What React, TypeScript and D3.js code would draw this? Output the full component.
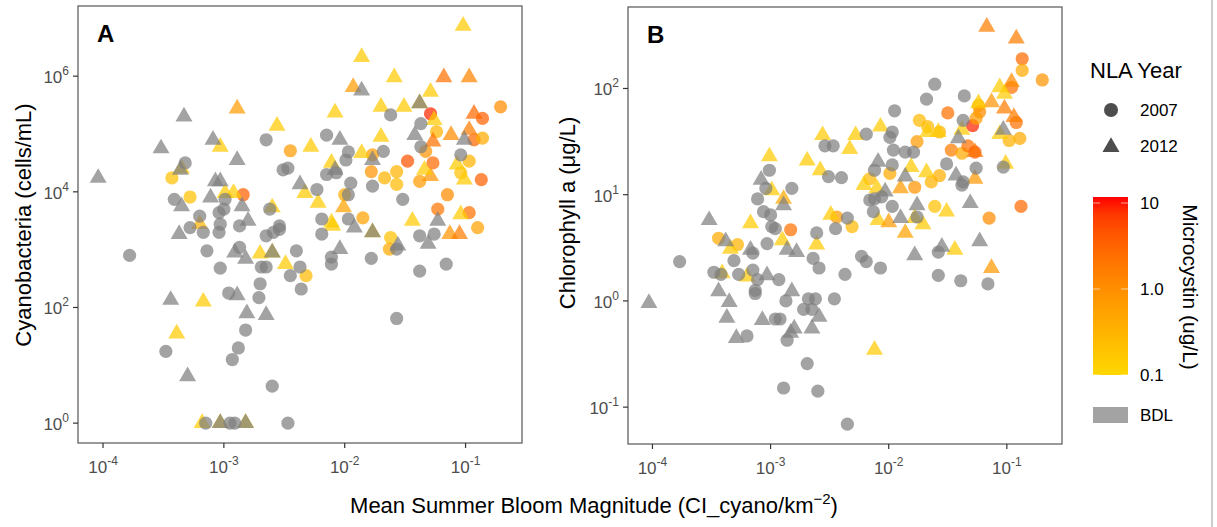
import React from 'react'
import * as d3 from 'd3'

type Pt = [number, number, number | null]

// [log10 bloom magnitude, log10 cyanobacteria cells/mL, microcystin ug/L (null = BDL)]
const cyano2007: Pt[] = [
  [-3.43, 4.24, 0.2], [-3.32, 4.5, null], [-3.41, 3.87, null], [-3.28, 3.91, 0.2], [-3.2, 3.58, null],
  [-3.04, 3.64, null], [-2.99, 3.87, null], [-3.0, 3.7, null], [-2.84, 3.95, 3], [-2.65, 4.9, null],
  [-2.62, 3.7, null], [-2.54, 3.41, null], [-2.51, 4.38, null], [-2.47, 4.41, null], [-2.45, 4.71, 0.6],
  [-2.23, 4.04, null], [-2.19, 3.53, null], [-2.15, 4.98, null], [-2.15, 4.3, null], [-2.07, 4.33, null],
  [-2.0, 3.95, 0.35], [-1.97, 3.95, null], [-1.99, 4.55, null], [-1.97, 4.69, null], [-1.95, 4.15, null],
  [-1.97, 3.53, null], [-1.85, 3.55, 0.5], [-1.78, 4.35, 0.8], [-1.77, 4.1, null], [-1.77, 4.64, 0.6],
  [-1.68, 4.7, null], [-1.67, 4.24, 0.3], [-1.62, 5.33, null], [-1.57, 4.35, 0.3], [-1.57, 4.13, 0.25],
  [-1.52, 3.87, null], [-1.48, 4.53, 4], [-1.38, 4.18, 0.6], [-1.37, 5.18, null], [-1.37, 4.78, null],
  [-1.33, 4.7, 0.8], [-1.29, 5.35, 8], [-1.27, 4.5, 2.5], [-1.24, 5.04, 0.3], [-1.23, 3.7, 1.8],
  [-1.15, 3.95, 1], [-1.04, 4.64, null], [-1.04, 4.33, 0.2], [-0.97, 4.53, 0.3], [-0.97, 3.64, 2],
  [-0.93, 4.9, 2.5], [-0.86, 5.27, 3], [-0.86, 4.93, 0.4], [-0.87, 4.21, 3], [-0.71, 5.47, 1],
  [-0.9, 3.38, 0.5],
  [-3.78, 2.9, null], [-3.28, 3.38, null], [-3.17, 3.3, null], [-3.04, 3.3, null], [-3.03, 3.44, null],
  [-3.14, 2.98, null], [-3.03, 2.68, null], [-2.87, 3.41, null], [-2.87, 3.04, null], [-2.65, 3.24, null],
  [-2.59, 3.3, null], [-2.54, 3.35, null], [-2.4, 2.98, null], [-2.69, 2.7, null], [-2.65, 2.7, null],
  [-2.45, 2.55, null], [-2.37, 2.7, null], [-2.32, 2.55, 0.25], [-2.7, 2.41, null], [-2.36, 2.32, null],
  [-2.96, 2.25, null], [-2.71, 2.17, null], [-2.82, 1.61, null], [-2.88, 1.3, null], [-2.93, 1.1, null],
  [-3.48, 1.24, null], [-2.6, 0.64, null], [-3.15, 0, null], [-2.95, 0, null], [-2.91, 0, null],
  [-2.47, 0, null], [-2.19, 3.27, null], [-2.11, 2.87, null], [-2.11, 2.75, null], [-1.78, 2.85, null],
  [-1.62, 3.21, 0.2], [-1.63, 3.01, 0.4], [-1.57, 3.01, null], [-1.57, 1.81, null], [-1.38, 3.24, null],
  [-1.26, 3.27, null], [-1.38, 2.63, null], [-1.16, 2.75, null],
]

const cyano2012: Pt[] = [
  [-4.04, 4.24, null], [-3.52, 4.75, null], [-3.33, 5.3, null], [-3.09, 4.9, null], [-3.03, 4.78, 0.15],
  [-2.89, 5.44, 0.6], [-2.89, 4.55, null], [-3.36, 4.38, null], [-3.35, 4.4, 0.15], [-3.07, 4.18, null],
  [-3.03, 4.18, null], [-2.99, 3.98, 0.15], [-2.92, 3.98, 0.15], [-3.11, 3.9, null], [-3.35, 3.75, null],
  [-2.85, 3.75, null], [-2.8, 3.5, null], [-2.6, 3.73, 0.15], [-2.56, 5.14, 0.15], [-2.37, 4.13, null],
  [-2.33, 3.98, 0.15], [-2.28, 4.78, 0.15], [-2.22, 3.81, 0.15], [-2.08, 5.37, 0.15], [-2.04, 4.9, null],
  [-2.11, 4.5, 0.15], [-2.08, 4.38, null], [-2.01, 3.73, 0.5], [-1.93, 5.81, 0.6], [-1.86, 5.75, null],
  [-1.86, 6.33, 0.15], [-1.86, 4.67, 0.15], [-1.77, 4.55, null], [-1.7, 5.47, 0.15], [-1.7, 4.95, 0.15],
  [-1.59, 5.98, 0.15], [-1.51, 5.47, 0.15], [-1.42, 4.98, null], [-1.38, 5.53, 0.2], [-1.38, 5.53, null],
  [-1.29, 5.73, 0.15], [-1.26, 5.24, 0.15], [-1.27, 4.87, 2], [-1.29, 4.27, 0.8], [-1.34, 4.38, 0.15],
  [-1.18, 5.98, 2], [-1.12, 4.98, 1], [-1.02, 6.87, 0.15], [-0.97, 5.98, 1.2], [-1.01, 4.9, null],
  [-0.97, 5.07, 1.5], [-0.93, 5.35, 2.5], [-1.07, 4.47, 0.15], [-1.01, 4.21, 0.15], [-1.04, 3.61, 0.15],
  [-1.44, 3.5, 0.15], [-1.23, 3.5, null], [-2.11, 3.47, 0.15],
  [-3.37, 3.27, null], [-3.2, 3.44, 0.3], [-2.91, 2.95, null], [-2.82, 2.84, null], [-2.7, 2.93, 0.15],
  [-2.6, 2.95, 0.15], [-2.6, 2.95, null], [-2.49, 2.75, 0.15], [-2.89, 2.21, null], [-3.44, 2.13, null],
  [-3.17, 2.1, 0.15], [-2.81, 1.9, null], [-2.65, 1.87, null], [-3.39, 1.55, 0.15], [-3.3, 0.81, null],
  [-3.18, 0, 0.15], [-3.03, 0, 0.15], [-3.03, 0, null], [-2.82, 0, 0.15], [-2.82, 0, null],
  [-2.1, 3.41, 0.15], [-2.04, 3.01, null], [-1.92, 3.38, null], [-1.77, 3.3, 0.15], [-1.77, 3.3, null],
  [-1.56, 3.07, null], [-1.31, 3.1, null], [-1.13, 3.27, 0.8], [-1.05, 3.27, 1.5],
]

// [log10 bloom magnitude, log10 chlorophyll a ug/L, microcystin ug/L (null = BDL)]
const chl2007: Pt[] = [
  [-1.61, 2.04, null], [-1.68, 1.9, null], [-1.95, 1.79, null], [-1.36, 1.93, null], [-1.5, 1.77, 2],
  [-1.37, 1.7, null], [-1.29, 1.65, 8], [-1.24, 1.84, 0.3], [-1.23, 1.78, 1], [-1.26, 1.72, 0.6],
  [-0.87, 2.28, 2.5], [-0.87, 2.17, 0.4], [-0.7, 2.08, 0.8], [-0.96, 2.01, 2], [-0.92, 1.68, 2],
  [-0.89, 1.53, 0.4], [-0.98, 1.51, 0.3], [-1.03, 1.26, null], [-1.74, 1.7, 0.25], [-1.67, 1.64, 0.25],
  [-1.57, 1.59, 0.3], [-1.76, 1.5, 0.6], [-2.19, 1.57, null], [-1.97, 1.59, null], [-1.99, 1.54, null],
  [-1.96, 1.42, null], [-1.86, 1.4, null], [-1.79, 1.4, null], [-2.54, 1.46, null], [-2.47, 1.46, null],
  [-1.97, 1.28, null], [-2.12, 1.23, null], [-1.99, 1.2, 0.4], [-2.16, 1.15, 0.25], [-2.51, 1.17, null],
  [-2.4, 1.16, null], [-1.78, 1.07, 0.8], [-1.64, 1.12, 0.3], [-1.57, 1.18, 0.35], [-1.51, 1.29, null],
  [-1.47, 1.42, 1.5], [-1.38, 1.39, 0.4], [-1.33, 1.46, 2], [-1.27, 1.4, 3.5], [-1.26, 1.25, null],
  [-1.38, 1.09, null], [-1.37, 1.12, null], [-1.61, 0.89, 0.2], [-0.88, 0.89, 2.5], [-1.15, 0.78, 1],
  [-3.01, 1.23, null], [-2.82, 1.06, null], [-3.04, 1.06, null], [-3.11, 0.96, null], [-3.06, 0.84, null],
  [-3.0, 0.81, null], [-2.12, 0.96, null], [-2.16, 0.95, null], [-2.06, 0.98, null], [-1.97, 0.89, null],
  [-2.13, 0.84, null], [-2.35, 0.78, null], [-2.44, 0.79, 0.6], [-1.76, 0.79, null],
  [-3.77, 0.37, null], [-3.44, 0.59, 0.4], [-3.28, 0.53, 0.3], [-3.31, 0.38, null], [-3.15, 0.45, null],
  [-3.15, 0.29, null], [-3.48, 0.27, null], [-3.42, 0.25, null], [-3.27, 0.25, null], [-3.11, 0.2, null],
  [-3.13, 0.1, null], [-3.13, 0.07, null], [-2.93, 0.2, null], [-3.03, 0.54, null], [-2.99, 0.7, null],
  [-2.96, 0.68, null], [-2.83, 0.67, 2], [-2.61, 0.64, null], [-2.64, 0.4, null], [-2.59, 0.31, null],
  [-2.45, 0.68, null], [-2.31, 0.7, 0.25], [-2.23, 0.42, null], [-2.19, 0.37, null], [-2.07, 0.31, null],
  [-2.37, 0.25, null], [-2.87, 0, null], [-2.68, 0.02, null], [-2.62, 0.02, null], [-2.46, 0.02, null],
  [-2.72, -0.08, null], [-2.65, -0.08, null], [-2.96, -0.17, null], [-2.92, -0.17, null], [-3.2, -0.33, null],
  [-2.86, -0.37, null], [-2.69, -0.59, null], [-2.89, -0.82, null], [-2.6, -0.85, null], [-2.35, -1.16, null],
  [-1.58, 0.46, null], [-1.58, 0.24, null], [-1.39, 0.19, null], [-1.16, 0.16, null],
]

const chl2012: Pt[] = [
  [-1.17, 2.58, 1.5], [-0.92, 2.47, 1.5], [-0.96, 2.06, 1], [-1.06, 2.01, 0.15], [-1.02, 1.95, 0.15],
  [-1.13, 1.87, 0.8], [-1.02, 1.81, 1.5], [-1.24, 1.86, 0.15], [-0.94, 1.73, 1.5], [-1.03, 1.61, null],
  [-1.06, 1.57, 0.15], [-1.01, 1.29, 0.15], [-1.41, 1.53, null], [-1.38, 1.61, 0.15], [-1.27, 1.4, 2],
  [-1.43, 1.18, null], [-1.27, 1.15, 0.7], [-1.31, 0.92, null], [-1.51, 0.84, 0.15], [-1.76, 0.9, null],
  [-1.81, 1.26, 0.15], [-1.68, 1.21, 0.15], [-1.86, 1.17, null], [-2.09, 1.31, null], [-2.07, 1.64, 0.15],
  [-2.28, 1.56, 0.15], [-2.33, 1.43, 0.15], [-2.56, 1.56, 0.15], [-2.58, 1.23, 0.15], [-2.69, 1.32, 0.15],
  [-3.01, 1.36, 0.15], [-3.08, 1.14, null], [-2.99, 1.04, 0.15], [-2.89, 0.96, 0.4], [-2.89, 0.9, null],
  [-2.21, 1.09, 0.15], [-2.1, 1.06, 0.15], [-2.03, 1.03, null], [-1.9, 1.06, 0.6], [-3.52, 0.76, null],
  [-3.17, 0.73, 0.15], [-2.49, 0.81, 0.15], [-2.09, 0.76, 0.15], [-2.0, 0.74, 0.6], [-1.9, 0.78, null],
  [-1.78, 0.78, 0.15], [-1.67, 1.59, 0.15], [-1.58, 1.59, 0.15],
  [-4.03, -0.02, null], [-3.44, 0.09, null], [-3.35, -0.01, null], [-3.37, -0.16, null], [-3.29, -0.35, null],
  [-3.38, 0.56, null], [-3.34, 0.49, 0.15], [-3.17, 0.48, null], [-3.2, 0.23, 0.15], [-3.03, 0.24, null],
  [-3.07, -0.18, null], [-2.9, 0.57, 0.15], [-2.86, 0.48, null], [-2.78, 0.46, null], [-2.82, 0.09, null],
  [-2.8, -0.26, null], [-2.83, -0.3, null], [-2.65, -0.26, null], [-2.59, -0.15, null], [-2.61, 0.53, 0.15],
  [-3.41, 0.26, 0.15], [-2.12, -0.46, 0.15], [-1.86, 0.64, 0.5], [-1.71, 0.72, 0.15], [-1.78, 0.43, null],
  [-1.55, 0.51, null], [-1.44, 0.48, 0.15], [-1.23, 0.56, null], [-1.13, 0.31, 0.7],
]

const xTickExp = [-4, -3, -2, -1]
const cyanoTickExp = [0, 2, 4, 6]
const chlTickExp = [-1, 0, 1, 2]
const mcTicks = [0.1, 1, 10]
const mcTickLabels = ['0.1', '1.0', '10']

const FONT = 'Liberation Sans, Arial, Helvetica, sans-serif'
const GRAY = '#7f7f7f'

const mcColor = d3.scaleLog<string>().domain([0.1, 10]).range(['#FFD700', '#FF0000'])
  .interpolate(d3.interpolateLab).clamp(true)

const expand = (ext: [number, number]): [number, number] => {
  const d = (ext[1] - ext[0]) * 0.05
  return [ext[0] - d, ext[1] + d]
}

const allX = [...cyano2007, ...cyano2012, ...chl2007, ...chl2012].map(d => d[0])
const xDomain = expand(d3.extent(allX) as [number, number])

const triPath = d3.symbol().type(d3.symbolTriangle).size(125)() as string

const Pow = ({ x, y, e, anchor }: { x: number, y: number, e: number, anchor: string }) => (
  <text x={x} y={y} textAnchor={anchor} fontSize={17} fill="#4d4d4d" fontFamily={FONT}>
    10<tspan dy={-8} fontSize={12}>{e}</tspan>
  </text>
)

const Panel = ({ left, right, top, bottom, d2007, d2012, yTicks, label, yTitle, titleX, titleY }:
  { left: number, right: number, top: number, bottom: number, d2007: Pt[], d2012: Pt[], yTicks: number[],
    label: string, yTitle: string, titleX: number, titleY: number }) => {

  const yDomain = expand(d3.extent([...d2007, ...d2012].map(d => d[1])) as [number, number])
  const x = d3.scaleLinear().domain(xDomain).range([left, right])
  const y = d3.scaleLinear().domain(yDomain).range([bottom, top])

  const pts = [
    ...d2007.map(d => ({ d, tri: false })),
    ...d2012.map(d => ({ d, tri: true })),
  ]
  // coloured first, BDL on top
  const ordered = [...pts.filter(p => p.d[2] !== null), ...pts.filter(p => p.d[2] === null)]

  return (
    <g>
      <rect x={left} y={top} width={right - left} height={bottom - top} fill="white" stroke="#555" strokeWidth={1.2} />
      {ordered.map((p, i) => {
        const fill = p.d[2] === null ? GRAY : mcColor(p.d[2])
        const cx = x(p.d[0]), cy = y(p.d[1])
        return p.tri
          ? <path key={i} d={triPath} transform={`translate(${cx},${cy})`} fill={fill} fillOpacity={0.72} />
          : <circle key={i} cx={cx} cy={cy} r={6.6} fill={fill} fillOpacity={0.72} />
      })}
      {yTicks.map(t => (
        <g key={'y' + t}>
          <line x1={left - 5} x2={left} y1={y(t)} y2={y(t)} stroke="#333" strokeWidth={1.2} />
          <Pow x={left - 9} y={y(t) + 7} e={t} anchor="end" />
        </g>
      ))}
      {xTickExp.map(t => (
        <g key={'x' + t}>
          <line x1={x(t)} x2={x(t)} y1={bottom} y2={bottom + 5} stroke="#333" strokeWidth={1.2} />
          <Pow x={x(t)} y={bottom + 30} e={t} anchor="middle" />
        </g>
      ))}
      <text x={left + 19} y={top + 36} fontSize={24} fontWeight="bold" fontFamily={FONT}>{label}</text>
      <text transform={`translate(${titleX},${titleY}) rotate(-90)`} textAnchor="middle" dominantBaseline="central"
        fontSize={22} fontFamily={FONT}>{yTitle}</text>
    </g>
  )
}

const App = () => {
  const barTop = 197, barBottom = 375, barX = 1093, barW = 35
  const bar = d3.scaleLog().domain([0.1, 10]).range([barBottom, barTop + 6])
  const stops = d3.range(0, 1.0001, 0.1)

  return (
    <div style={{ position: 'absolute', left: 0, top: 0 }}>
      <svg width={1217} height={527} style={{ display: 'block', background: 'white' }}>
        <defs>
          <linearGradient id="mc" x1="0" y1="1" x2="0" y2="0">
            {stops.map(s => (
              <stop key={s} offset={s} stopColor={mcColor(10 ** (-1 + 2 * s))} />
            ))}
          </linearGradient>
        </defs>
        <Panel left={78} right={522} top={6} bottom={443} d2007={cyano2007} d2012={cyano2012}
          yTicks={cyanoTickExp} label="A" yTitle="Cyanobacteria (cells/mL)" titleX={23} titleY={225} />
        <Panel left={628} right={1062} top={7} bottom={444} d2007={chl2007} d2012={chl2012}
          yTicks={chlTickExp} label="B" yTitle="Chlorophyll a (μg/L)" titleX={567} titleY={213} />

        <text x={594} y={513} textAnchor="middle" fontSize={22} fontFamily={FONT}>
          Mean Summer Bloom Magnitude (CI_cyano/km<tspan dy={-9} fontSize={15}>−2</tspan><tspan dy={9}>)</tspan>
        </text>

        <text x={1090} y={78} fontSize={22} fontFamily={FONT}>NLA Year</text>
        <circle cx={1111} cy={110} r={7} fill="#4d4d4d" />
        <text x={1140} y={116} fontSize={17} fontFamily={FONT}>2007</text>
        <path d={triPath} transform="translate(1111,147)" fill="#4d4d4d" />
        <text x={1140} y={152} fontSize={17} fontFamily={FONT}>2012</text>

        <rect x={barX} y={barTop} width={barW} height={barBottom - barTop} fill="url(#mc)" />
        {mcTicks.map((t, i) => (
          <g key={t}>
            <line x1={barX} x2={barX + 7} y1={bar(t)} y2={bar(t)} stroke="white" strokeOpacity={0.6} />
            <line x1={barX + barW - 7} x2={barX + barW} y1={bar(t)} y2={bar(t)} stroke="white" strokeOpacity={0.6} />
            <text x={1140} y={bar(t) + 6} fontSize={17} fontFamily={FONT}>{mcTickLabels[i]}</text>
          </g>
        ))}
        <text transform="translate(1190,287) rotate(90)" textAnchor="middle" dominantBaseline="central"
          fontSize={21} fontFamily={FONT}>
          Microcystin (ug/L)
        </text>
        <rect x={barX} y={407} width={barW} height={16} fill={GRAY} fillOpacity={0.72} />
        <text x={1140} y={421} fontSize={17} fontFamily={FONT}>BDL</text>

        <line x1={1212} x2={1212} y1={0} y2={527} stroke="#999" />
      </svg>
    </div>
  )
}

export default App
